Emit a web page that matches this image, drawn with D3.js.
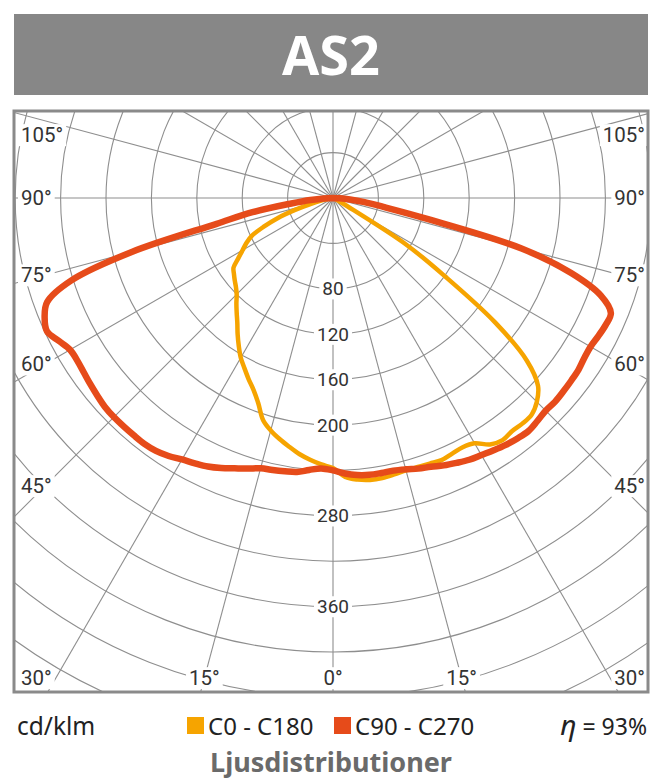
<!DOCTYPE html>
<html>
<head>
<meta charset="utf-8">
<script src="https://cdn.jsdelivr.net/npm/d3@7"></script>
<style>
  body { margin: 0; background: #fff; }
  svg text { font-family: Roboto, "Noto Sans", sans-serif; }
</style>
</head>
<body>
<svg id="chart" width="661" height="781"></svg>
<script>
// gamma angles (deg from nadir), same grid for every half curve
const gammaAngles = [0, 2.5, 5, 7.5, 10, 12.5, 15, 17.5, 20, 22.5, 25, 27.5, 30, 32.5, 35, 37.5, 40, 42.5, 45,
  47.5, 50, 52.5, 55, 57.5, 60, 62.5, 65, 67.5, 70, 72.5, 75, 77.5, 80, 82.5, 85, 87.5, 90];

// C0 - C180 (left half = C180, right half = C0), cd/klm
const c180Values = [238, 235, 231.5, 227.5, 222.5, 217.5, 212, 205, 192.5, 183, 176, 169, 162.5, 154.5, 146.5, 138.5, 132, 126, 120,
  116, 113, 110, 107, 99, 92, 86, 79, 66, 52, 35, 20, 10, 5, 3, 2, 1, 0];
const c0Values = [240, 246, 249, 250.5, 250.5, 249.5, 248.5, 248.5, 249, 250, 248.5, 247.5, 249.5, 257.5, 260.5, 259, 259.5, 259, 254,
  245, 223, 180, 121, 77, 15, 5, 3, 2, 1, 1, 0, 0, 0, 0, 0, 0, 0];

// C90 - C270 (left half = C270, right half = C90)
const c270Values = [240, 238.5, 240.5, 243.5, 244.5, 245.5, 246.5, 250, 253.5, 257.5, 261, 263.5, 266, 269.5, 272, 273, 273, 273, 273,
  272.5, 271, 269.5, 268, 267, 267.5, 272.5, 278, 275, 268, 242, 183, 105, 72, 37, 20, 8, 0];
const c90Values = [240, 243, 245, 246, 246, 246, 247.5, 250, 252, 255, 257.5, 260, 261.5, 263.5, 265.5, 267, 268, 266.5, 265,
  265.5, 265, 264.5, 264, 262.5, 262, 263.5, 265, 265, 251, 220, 172, 85, 45, 28, 15, 6, 0];

const ringValues = d3.range(40, 600, 40);
const ringLabels = [80, 120, 160, 200, 280, 360];
const spokeAngles = d3.range(0, 360, 15);
const angleLabels = [0, 15, 30, 45, 60, 75, 90, 105];

const legendItems = [
  { label: 'C0 - C180', color: '#F6A400' },
  { label: 'C90 - C270', color: '#E64B1A' }
];

const svg = d3.select('#chart');

// title bar
svg.append('rect').attr('x', 14).attr('y', 14).attr('width', 634).attr('height', 81).attr('fill', '#878787');
svg.append('text').attr('x', 331).attr('y', 75).attr('text-anchor', 'middle')
  .style('font-family', '"Open Sans", "Noto Sans", sans-serif')
  .attr('font-size', 54).attr('font-weight', 700).attr('fill', '#fff').text('AS2');

// plot frame
const frame = { x0: 14, y0: 111, x1: 648, y1: 692 };
const cx = 333, cy = 198;
const r = d3.scaleLinear().domain([0, 560]).range([0, 560 * 1.135]);

svg.append('clipPath').attr('id', 'plotClip').append('rect')
  .attr('x', frame.x0).attr('y', frame.y0).attr('width', frame.x1 - frame.x0).attr('height', frame.y1 - frame.y0);

const plot = svg.append('g').attr('clip-path', 'url(#plotClip)');
const g = plot.append('g').attr('transform', `translate(${cx},${cy})`);
const gridColor = '#8e8e8e';

g.selectAll('circle.ring').data(ringValues).enter().append('circle')
  .attr('class', 'ring').attr('r', d => r(d))
  .attr('fill', 'none').attr('stroke', gridColor).attr('stroke-width', 1.1);

g.selectAll('line.spoke').data(spokeAngles).enter().append('line')
  .attr('class', 'spoke')
  .attr('x1', 0).attr('y1', 0)
  .attr('x2', d => Math.sin(d * Math.PI / 180) * 900)
  .attr('y2', d => Math.cos(d * Math.PI / 180) * 900)
  .attr('stroke', gridColor).attr('stroke-width', 1.1);

// label with white background, lines stop at the text
function boxedLabel(parent, x, y, text, anchor, size) {
  const grp = parent.append('g');
  const bg = grp.append('rect').attr('fill', '#fff');
  const t = grp.append('text').attr('x', x).attr('y', y).attr('dy', '0.35em')
    .attr('text-anchor', anchor).attr('font-size', size).attr('fill', '#333').text(text);
  const bb = t.node().getBBox();
  bg.attr('x', bb.x - 3).attr('y', bb.y + 1).attr('width', bb.width + 6).attr('height', bb.height - 2);
}

const labelLayer = plot.append('g');
ringLabels.forEach(v => boxedLabel(labelLayer, cx, cy + r(v), String(v), 'middle', 19));

// angle labels: side column for >= 30 deg, bottom row below that
angleLabels.forEach(a => {
  const rad = a * Math.PI / 180;
  [-1, 1].forEach(side => {
    if (a === 0 && side === 1) return;
    if (a >= 30) {
      const y = Math.max(135, Math.min(678, cy + 288 / Math.tan(rad)));
      if (side < 0) boxedLabel(labelLayer, 21, y, a + '°', 'start', 20.5);
      else boxedLabel(labelLayer, 645, y, a + '°', 'end', 20.5);
    } else {
      const x = cx + side * (678 - cy) * Math.tan(rad);
      boxedLabel(labelLayer, x, 678, a + '°', 'middle', 20.5);
    }
  });
});

// light distribution curves
function fullCurve(leftVals, rightVals) {
  const pts = [];
  for (let i = gammaAngles.length - 1; i >= 0; i--) pts.push({ a: Math.PI + gammaAngles[i] * Math.PI / 180, v: leftVals[i] });
  for (let i = 1; i < gammaAngles.length; i++) pts.push({ a: Math.PI - gammaAngles[i] * Math.PI / 180, v: rightVals[i] });
  return pts;
}
const radial = d3.lineRadial().angle(d => d.a).radius(d => r(d.v)).curve(d3.curveCatmullRom.alpha(0.5));

g.append('path').datum(fullCurve(c180Values, c0Values))
  .attr('d', radial).attr('fill', 'none').attr('stroke', legendItems[0].color)
  .attr('stroke-width', 4.5).attr('stroke-linejoin', 'round');
g.append('path').datum(fullCurve(c270Values, c90Values))
  .attr('d', radial).attr('fill', 'none').attr('stroke', legendItems[1].color)
  .attr('stroke-width', 6.5).attr('stroke-linejoin', 'round');

svg.append('rect').attr('x', frame.x0).attr('y', frame.y0)
  .attr('width', frame.x1 - frame.x0).attr('height', frame.y1 - frame.y0)
  .attr('fill', 'none').attr('stroke', '#8a8a8a').attr('stroke-width', 3);

// footer
const footFont = '"Noto Sans", "Open Sans", sans-serif';
svg.append('text').attr('x', 17).attr('y', 735).style('font-family', footFont)
  .attr('font-size', 24.5).attr('fill', '#222').text('cd/klm');

const legendX = [187, 334];
legendItems.forEach((d, i) => {
  svg.append('rect').attr('x', legendX[i]).attr('y', 717).attr('width', 17).attr('height', 17).attr('fill', d.color);
  svg.append('text').attr('x', legendX[i] + 21).attr('y', 735).style('font-family', footFont)
    .attr('font-size', 24).attr('fill', '#222').text(d.label);
});

const eta = svg.append('text').attr('x', 647).attr('y', 735).attr('text-anchor', 'end')
  .style('font-family', footFont).attr('font-size', 23).attr('fill', '#222');
eta.append('tspan').attr('font-style', 'italic').attr('font-size', 28).text('η');
eta.append('tspan').text(' = 93%');

svg.append('text').attr('x', 331).attr('y', 772).attr('text-anchor', 'middle')
  .style('font-family', footFont).attr('font-size', 27).attr('font-weight', 700)
  .attr('fill', '#6a6a6a').text('Ljusdistributioner');
</script>
</body>
</html>
